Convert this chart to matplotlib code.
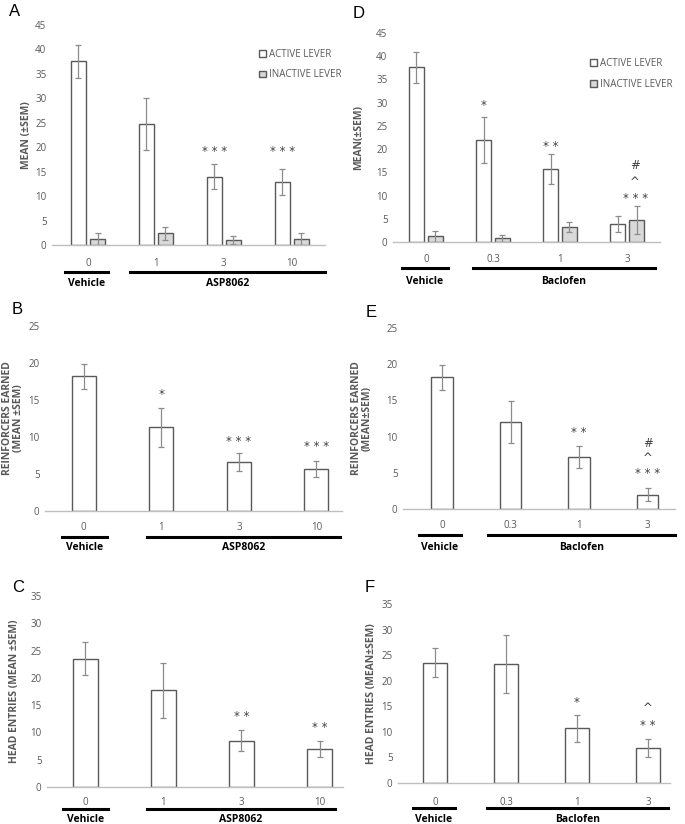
import matplotlib.pyplot as plt
from matplotlib.transforms import offset_copy
import numpy as np

plt.rcParams['font.family'] = ['Open Sans', 'DejaVu Sans']

W, H = 685, 824

asp_doses = ['0', '1', '3', '10']
bac_doses = ['0', '0.3', '1', '3']

# panel A: ASP8062 lever presses
a_active = [37.6, 24.8, 14.0, 12.9]
a_active_err = [3.4, 5.3, 2.5, 2.7]
a_inactive = [1.3, 2.4, 1.0, 1.3]
a_inactive_err = [1.2, 1.3, 0.8, 1.2]

# panel D: baclofen lever presses
d_active = [37.6, 22.0, 15.7, 3.9]
d_active_err = [3.3, 5.0, 3.2, 1.7]
d_inactive = [1.2, 0.8, 3.2, 4.8]
d_inactive_err = [1.2, 0.7, 1.0, 3.0]

# panels B / E: reinforcers earned
b_vals = [18.2, 11.3, 6.6, 5.7]
b_err = [1.7, 2.6, 1.2, 1.1]
e_vals = [18.2, 12.0, 7.2, 2.0]
e_err = [1.7, 2.9, 1.5, 0.9]

# panels C / F: head entries
c_vals = [23.5, 17.7, 8.5, 7.0]
c_err = [3.0, 5.1, 1.9, 1.5]
f_vals = [23.5, 23.3, 10.7, 6.9]
f_err = [2.8, 5.7, 2.6, 1.8]

GRAY_TXT = '#595959'
EDGE = '#595959'
ECOL = '#8c8c8c'
INACT = '#d9d9d9'

fig = plt.figure(figsize=(W / 100, H / 100), dpi=100)


def px_axes(x0, x1, y_zero, y_top):
    return fig.add_axes([x0 / W, 1 - y_zero / H, (x1 - x0) / W, (y_zero - y_top) / H])


def style(ax, ymax, step, xlim, cats, ylabel, ylab_x, group, drug, pads):
    ax.set_ylim(0, ymax)
    ax.set_xlim(*xlim)
    ax.set_yticks(np.arange(0, ymax + 0.1, step))
    ax.set_xticks(range(len(cats)))
    ax.set_xticklabels(cats)
    for s in ['top', 'right', 'left']:
        ax.spines[s].set_visible(False)
    ax.spines['bottom'].set_color('#bfbfbf')
    ax.spines['bottom'].set_linewidth(1.0)
    ax.tick_params(axis='both', length=0, labelsize=7, labelcolor=GRAY_TXT)
    ax.tick_params(axis='x', pad=pads[0])
    ax.tick_params(axis='y', pad=4)
    ax.set_ylabel(ylabel, fontsize=7.5, color=GRAY_TXT, fontweight='bold', linespacing=1.0)
    ax.yaxis.set_label_coords(ylab_x, 0.5)
    tr = offset_copy(ax.get_xaxis_transform(), fig=fig, y=-pads[1], units='dots')
    (v0, v1), (g0, g1) = group
    ax.plot([v0, v1], [0, 0], color='black', lw=2.2, transform=tr, clip_on=False)
    ax.plot([g0, g1], [0, 0], color='black', lw=2.2, transform=tr, clip_on=False)
    tr2 = offset_copy(ax.get_xaxis_transform(), fig=fig, y=-pads[2], units='dots')
    ax.text((v0 + v1) / 2, 0, 'Vehicle', transform=tr2, ha='center', va='center',
            fontsize=7.5, fontweight='bold')
    ax.text((g0 + g1) / 2, 0, drug, transform=tr2, ha='center', va='center',
            fontsize=7.5, fontweight='bold')


def marks(ax, items):
    for x, y, s in items:
        ax.text(x, y, s, ha='center', va='center', fontsize=8.5, color='#404040',
                family=['DejaVu Sans'])


def letter(xp, yp, s):
    fig.text(xp / W, 1 - yp / H, s, fontsize=12, family=['Liberation Sans'],
             va='center', ha='left')


x = np.arange(4)
ekw = dict(ecolor=ECOL, elinewidth=0.9, capsize=2, capthick=0.9)
leg_kw = dict(loc='upper left', frameon=False, fontsize=7, labelcolor=GRAY_TXT,
              handlelength=0.7, handleheight=0.7, handletextpad=0.3,
              labelspacing=1.0, borderaxespad=0)

# ---- A
ax = px_axes(52, 325, 245, 25)
bw, off = 0.22, 0.14
b1 = ax.bar(x - off, a_active, bw, yerr=a_active_err, color='white', edgecolor=EDGE,
            lw=1.0, error_kw=ekw, label='ACTIVE LEVER')
b2 = ax.bar(x + off, a_inactive, bw, yerr=a_inactive_err, color=INACT, edgecolor=EDGE,
            lw=1.0, error_kw=ekw, label='INACTIVE LEVER')
style(ax, 45, 5, (-0.53, 3.49), asp_doses, 'MEAN (±SEM)', -0.075,
      ((-0.34, 0.29), (0.62, 3.49)), 'ASP8062', (9, 27, 38))
marks(ax, [(2 - off, 19.2, '* * *'), (3 - off, 19.2, '* * *')])
ax.legend(handles=[b1, b2], bbox_to_anchor=(0.745, 0.91), **leg_kw)
letter(9, 11, 'A')

# ---- D
ax = px_axes(393, 660, 242, 33)
b1 = ax.bar(x - off, d_active, bw, yerr=d_active_err, color='white', edgecolor=EDGE,
            lw=1.0, error_kw=ekw, label='ACTIVE LEVER')
b2 = ax.bar(x + off, d_inactive, bw, yerr=d_inactive_err, color=INACT, edgecolor=EDGE,
            lw=1.0, error_kw=ekw, label='INACTIVE LEVER')
style(ax, 45, 5, (-0.49, 3.49), bac_doses, 'MEAN(±SEM)', -0.11,
      ((-0.36, 0.33), (0.70, 3.42)), 'Baclofen', (9, 26, 39))
marks(ax, [(1 - off, 29.4, '*'), (2 - off, 20.6, '* *'), (3 + 0.12, 9.3, '* * *'),
           (3 + 0.12, 12.8, '^'), (3 + 0.12, 16.4, '#')])
ax.legend(handles=[b1, b2], bbox_to_anchor=(0.725, 0.9), **leg_kw)
letter(353, 14, 'D')

# ---- B
ax = px_axes(45, 342, 511, 326)
ax.bar(x, b_vals, 0.31, yerr=b_err, color='white', edgecolor=EDGE, lw=1.0, error_kw=ekw)
style(ax, 25, 5, (-0.5, 3.33), asp_doses, 'REINFORCERS EARNED\n(MEAN ±SEM)', -0.07,
      ((-0.28, 0.30), (0.81, 3.30)), 'ASP8062', (8, 26, 37))
marks(ax, [(1, 15.8, '*'), (2, 9.4, '* * *'), (3, 8.7, '* * *')])
letter(12, 310, 'B')

# ---- E
ax = px_axes(403, 675, 509, 328)
ax.bar(x, e_vals, 0.31, yerr=e_err, color='white', edgecolor=EDGE, lw=1.0, error_kw=ekw)
style(ax, 25, 5, (-0.57, 3.4), bac_doses, 'REINFORCERS EARNED\n(MEAN±SEM)', -0.11,
      ((-0.34, 0.28), (0.67, 3.40)), 'Baclofen', (8, 26, 38))
marks(ax, [(2, 10.6, '* *'), (3, 4.9, '* * *'), (3, 7.0, '^'), (3, 9.1, '#')])
letter(366, 312, 'E')

# ---- C
ax = px_axes(47, 343, 787, 596)
ax.bar(x, c_vals, 0.32, yerr=c_err, color='white', edgecolor=EDGE, lw=1.0, error_kw=ekw)
style(ax, 35, 5, (-0.49, 3.3), asp_doses, 'HEAD ENTRIES (MEAN ±SEM)', -0.09,
      ((-0.28, 0.29), (0.79, 3.20)), 'ASP8062', (7, 22, 32))
marks(ax, [(2, 12.9, '* *'), (3, 10.9, '* *')])
letter(12, 587, 'C')

# ---- F
ax = px_axes(398, 670, 783, 604)
ax.bar(x, f_vals, 0.33, yerr=f_err, color='white', edgecolor=EDGE, lw=1.0, error_kw=ekw)
style(ax, 35, 5, (-0.52, 3.31), bac_doses, 'HEAD ENTRIES (MEAN±SEM)', -0.077,
      ((-0.31, 0.28), (0.73, 3.28)), 'Baclofen', (10, 25, 36))
marks(ax, [(2, 15.7, '*'), (3, 11.3, '* *'), (3, 14.6, '^')])
letter(365, 588, 'F')

fig.savefig('out.png', dpi=100, facecolor='white')
